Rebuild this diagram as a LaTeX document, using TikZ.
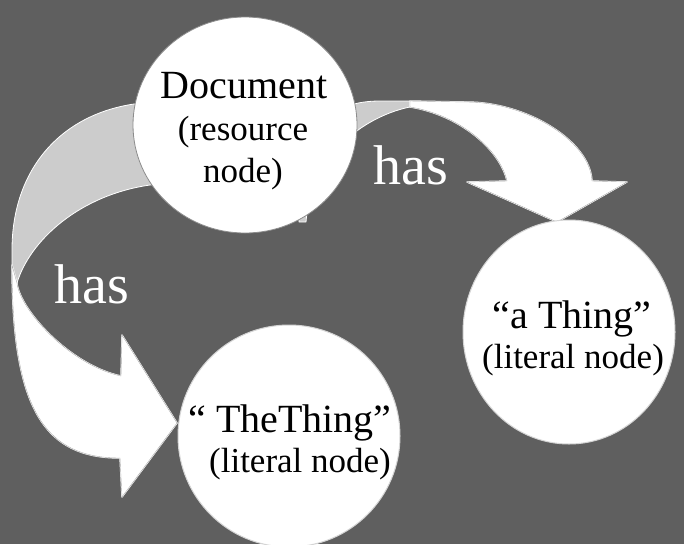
\documentclass[tikz,border=0pt]{standalone}
\usepackage{fontspec}
\setmainfont{Liberation Serif}
\usetikzlibrary{shapes.geometric}
\definecolor{bg}{HTML}{5F5F5F}
\definecolor{backface}{HTML}{CCCCCC}
\definecolor{rim}{HTML}{A9A9A9}
\definecolor{darkrim}{HTML}{8C8C8C}
\definecolor{softrim}{HTML}{D4D4D4}
\begin{document}
\begin{tikzpicture}[x=1pt,y=-1pt,
  bubble/.style={ellipse, fill=white, draw=softrim, line width=1pt, inner sep=0pt},
  backband/.style={fill=backface, draw=white, line width=0.8pt, line join=round},
  arrowbody/.style={fill=white, draw=white, double=rim, double distance=0.4pt,
                    line width=0.5pt, line join=round},
  title/.style={anchor=base, inner sep=0pt, font=\fontsize{40}{44}\selectfont},
  subtitle/.style={anchor=base, inner sep=0pt, font=\fontsize{35}{40}\selectfont},
  relation/.style={anchor=base, inner sep=0pt, text=white, font=\fontsize{56}{60}\selectfont}]

\clip (0,0) rectangle (684,544);
\fill[bg] (0,0) rectangle (684,544);

% curved arrow on the left: shaded back face, then the lit body with its head
\path[backband] (200,98) -- (134,104) .. controls (60,115) and (12,170) .. (12,250)
  -- (12,270) -- (17,283) .. controls (30,240) and (80,195) .. (150,185) -- (200,180) -- cycle;
\path[arrowbody] (12,265) .. controls (12,410) and (45,458) .. (120,458)
  -- (122,497) -- (177,423) -- (122,335) -- (121,376)
  .. controls (70,365) and (20,310) .. (17,283) -- cycle;

% curved arrow on the right
\path[backband] (299,222) .. controls (297,140) and (320,101) .. (380,101) -- (410,101)
  -- (410,107) .. controls (370,115) and (312,150) .. (306,222) -- cycle;
\path[arrowbody] (410,101) -- (467,102) .. controls (525,102) and (590,140) .. (592,181)
  -- (627,182) -- (557,222) -- (467,182) -- (507,181)
  .. controls (500,150) and (460,115) .. (410,107) -- cycle;

% the three nodes of the graph
\node[bubble, draw=darkrim, line width=0.8pt, minimum width=224pt, minimum height=216pt]
  (doc) at (245,125) {};
\node[bubble, minimum width=222pt, minimum height=222pt] (thething) at (289,436) {};
\node[bubble, minimum width=212pt, minimum height=224pt] (athing) at (569,332) {};

% labels inside the nodes
\node[title]    (docname) at (244,98)  {Document};
\node[subtitle] (docsub1) at (243,140) {(resource};
\node[subtitle] (docsub2) at (243,182) {node)};
\node[title]    (thename) at (290,432) {“ TheThing”};
\node[subtitle] (thesub)  at (300,472) {(literal node)};
\node[title]    (aname)   at (572,328) {“a Thing”};
\node[subtitle] (asub)    at (573,368) {(literal node)};

% relation labels
\node[relation] (hasleft)  at (91.5,303) {has};
\node[relation] (hasright) at (410.5,184) {has};
\end{tikzpicture}
\end{document}
